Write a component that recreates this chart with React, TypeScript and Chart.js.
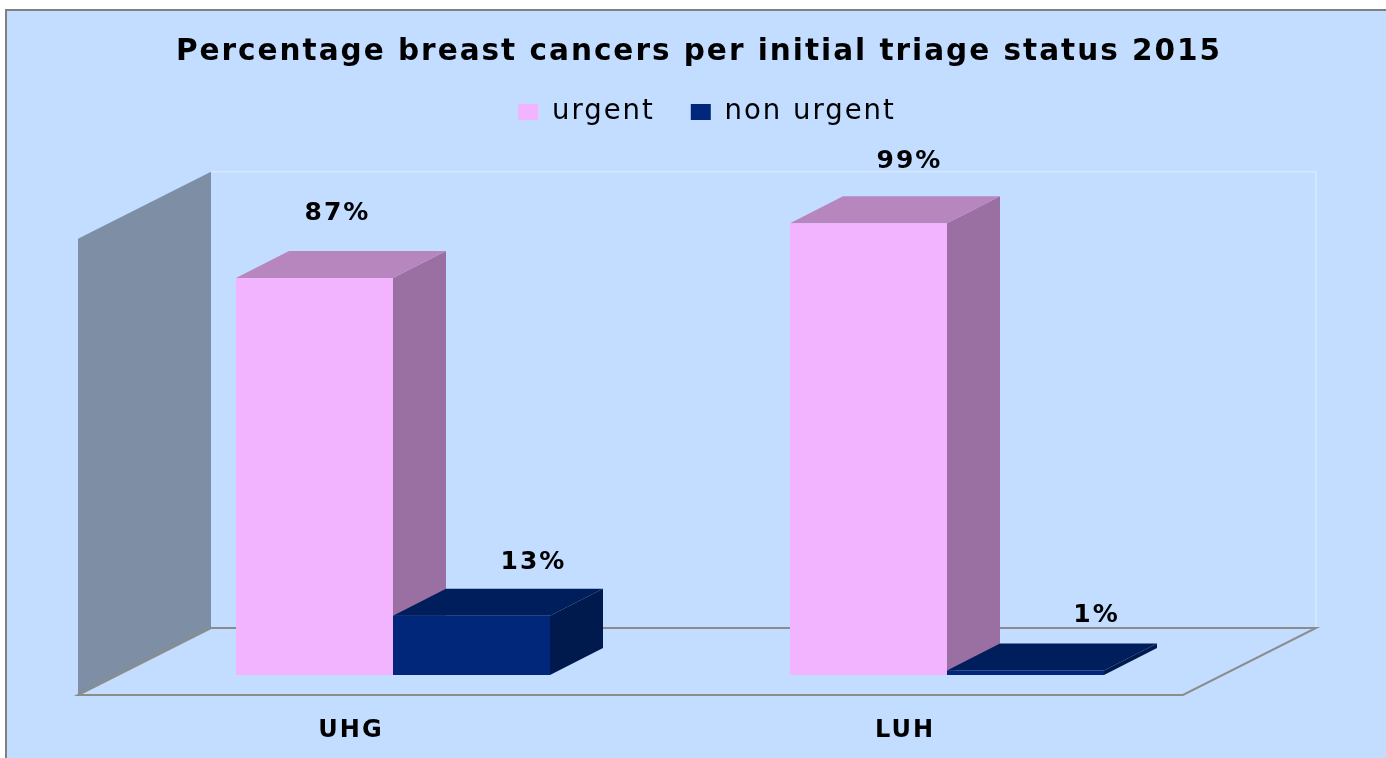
import React, { useEffect, useRef } from "react";
import { Chart, registerables } from "chart.js";

Chart.register(...registerables);

const categories = ["UHG", "LUH"];
const seriesNames = ["urgent", "non urgent"];
const urgentValues = [87, 99];
const nonUrgentValues = [13, 1];
const chartTitle = "Percentage breast cancers per initial triage status 2015";

const FONT = "'DejaVu Sans', sans-serif";
const BG = "#C2DDFF";

// label nudges from the bar top, per dataset and category
const labelNudgeX = [[23, 41], [62, 71]];
const labelNudgeY = [[-65, -62], [-53, -55]];
const barColors = [
  { front: "#F2B3FF", top: "#B886BE", side: "#9A6FA1" },
  { front: "#00277A", top: "#001E5C", side: "#001A4D" },
];

const poly = (ctx: CanvasRenderingContext2D, pts: number[][], fill: string) => {
  ctx.beginPath();
  pts.forEach(([x, y], i) => (i ? ctx.lineTo(x, y) : ctx.moveTo(x, y)));
  ctx.closePath();
  ctx.fillStyle = fill;
  ctx.fill();
};

const scene = {
  id: "scene",
  beforeLayout(chart: any) {
    (chart.ctx as any).letterSpacing = "2px";
  },
  afterLayout(chart: any) {
    const t = chart.titleBlock;
    t.left += 29;
    t.right += 29;
    const l = chart.legend;
    const h = l.bottom - l.top;
    l.left += 37;
    l.right += 37;
    l.top = 112 - 36 - 13.75;
    l.bottom = l.top + h;
  },
  beforeDraw(chart: any) {
    const { ctx, width, height } = chart;
    ctx.save();
    ctx.fillStyle = "#FFFFFF";
    ctx.fillRect(0, 0, width, height);
    ctx.fillStyle = "#808080";
    ctx.fillRect(5, 9, width - 5, height - 9);
    ctx.fillStyle = BG;
    ctx.fillRect(7, 11, width - 7, height - 11);
    ctx.restore();
  },
  beforeDatasetsDraw(chart: any) {
    const { ctx, scales } = chart;
    const x = scales.x;
    const y = scales.y;
    const y0 = y.getPixelForValue(0);
    const y100 = y.getPixelForValue(100);
    const fl = x.left - 38;
    const fr = x.right - 41;
    const fb = y0 + 20;
    const dx = 133;
    const dy = -67;
    ctx.save();
    // back wall edges
    ctx.strokeStyle = "#D6E9FF";
    ctx.lineWidth = 1.5;
    ctx.beginPath();
    ctx.moveTo(fl + dx, fb + dy - (y0 - y100));
    ctx.lineTo(fr + dx, fb + dy - (y0 - y100));
    ctx.lineTo(fr + dx, fb + dy);
    ctx.stroke();
    // side wall
    poly(ctx, [[fl, fb], [fl + dx, fb + dy], [fl + dx, fb + dy - (y0 - y100)], [fl, fb - (y0 - y100)]], "#7E8FA5");
    // floor outline
    ctx.strokeStyle = "#8C8C8C";
    ctx.lineWidth = 2;
    ctx.beginPath();
    ctx.moveTo(fl + dx, fb + dy);
    ctx.lineTo(fr + dx, fb + dy);
    ctx.lineTo(fr, fb);
    ctx.lineTo(fl, fb);
    ctx.lineTo(fl + dx, fb + dy);
    ctx.stroke();
    // bar depth faces
    const bdx = 53;
    const bdy = -27;
    chart.data.datasets.forEach((_: any, di: number) => {
      const c = barColors[di];
      chart.getDatasetMeta(di).data.forEach((b: any) => {
        const hw = b.width / 2;
        const l = b.x - hw;
        const r = b.x + hw;
        const t = b.y;
        const bt = b.base;
        poly(ctx, [[r, t], [r + bdx, t + bdy], [r + bdx, bt + bdy], [r, bt]], c.side);
        poly(ctx, [[l, t], [l + bdx, t + bdy], [r + bdx, t + bdy], [r, t]], c.top);
      });
    });
    ctx.restore();
  },
  afterDatasetsDraw(chart: any) {
    const { ctx } = chart;
    ctx.save();
    ctx.font = `bold 25px ${FONT}`;
    ctx.fillStyle = "#000000";
    ctx.textAlign = "center";
    ctx.textBaseline = "middle";
    chart.data.datasets.forEach((ds: any, di: number) => {
      chart.getDatasetMeta(di).data.forEach((b: any, i: number) => {
        ctx.fillText(`${ds.data[i]}%`, b.x + labelNudgeX[di][i], b.y + labelNudgeY[di][i]);
      });
    });
    ctx.restore();
  },
};

export default function App() {
  const ref = useRef<HTMLCanvasElement>(null);
  useEffect(() => {
    const chart = new Chart(ref.current as HTMLCanvasElement, {
      type: "bar",
      data: {
        labels: categories,
        datasets: [
          { label: seriesNames[0], data: urgentValues, backgroundColor: barColors[0].front, borderWidth: 0 },
          { label: seriesNames[1], data: nonUrgentValues, backgroundColor: barColors[1].front, borderWidth: 0 },
        ],
      },
      options: {
        animation: false,
        responsive: false,
        devicePixelRatio: 1,
        layout: { padding: { left: 116, right: 162, top: 0, bottom: 0 } },
        datasets: { bar: { categoryPercentage: 0.5668, barPercentage: 1 } },
        plugins: {
          tooltip: { enabled: false },
          title: {
            display: true,
            text: chartTitle,
            color: "#000000",
            font: { family: FONT, size: 29.5, weight: "bold" },
            padding: { top: 35, bottom: 74.9 },
          },
          legend: {
            display: true,
            position: "top",
            labels: {
              boxWidth: 20,
              boxHeight: 16,
              padding: 36,
              color: "#000000",
              font: { family: FONT, size: 27.5 },
            },
          },
        },
        scales: {
          x: {
            offset: true,
            grid: { display: false, drawTicks: false },
            border: { display: false },
            ticks: {
              color: "#000000",
              font: { family: FONT, size: 24, weight: "bold" },
              padding: 41,
              labelOffset: -42,
              maxRotation: 0,
            },
            afterFit: (s: any) => {
              s.height = 83;
            },
          },
          y: { display: false, min: 0, max: 100 },
        },
      },
      plugins: [scene],
    } as any);
    return () => chart.destroy();
  }, []);
  return (
    <div style={{ position: "absolute", left: 0, top: 0 }}>
      <canvas ref={ref} width={1386} height={758} style={{ display: "block" }} />
    </div>
  );
}
